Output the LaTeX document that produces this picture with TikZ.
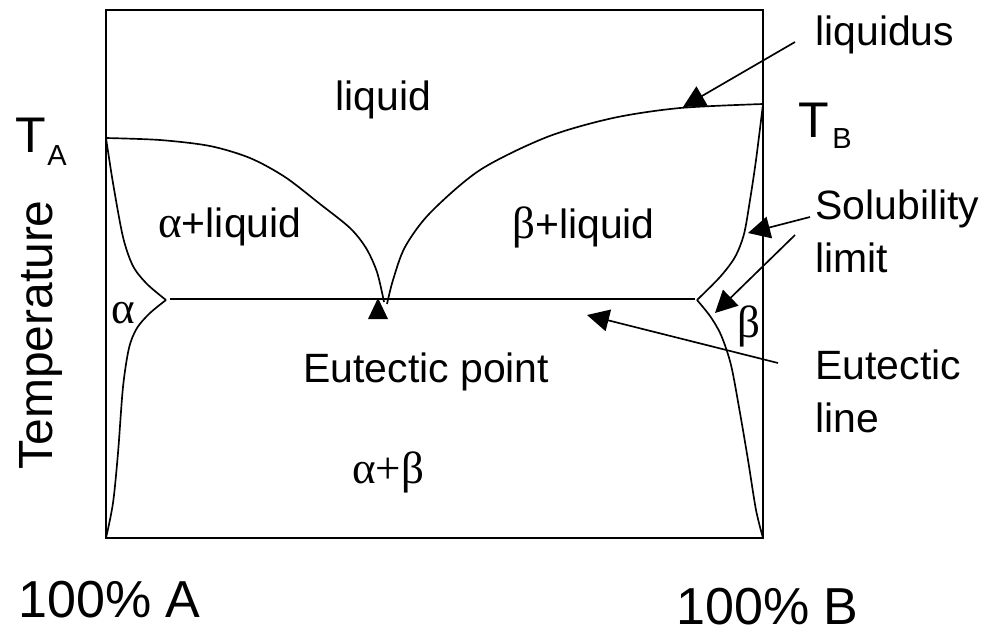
\documentclass[tikz,border=0pt]{standalone}
\usepackage{fontspec}
\setmainfont{Liberation Sans}
\newfontfamily\greekfont[Scale=1.1]{Liberation Serif}
\usetikzlibrary{arrows.meta, calc}
\newcommand{\galpha}{{\greekfont α}}
\newcommand{\gbeta}{{\greekfont β}}

\begin{document}
\begin{tikzpicture}[x=0.2mm, y=-0.2mm,
    curve/.style={line width=0.95pt},
    frame/.style={line width=1.1pt},
    pointer/.style={-{Triangle[length=4.4mm, width=4.4mm]}, line width=0.95pt},
    region/.style={font=\fontsize{23.3}{28}\selectfont, inner sep=0pt, anchor=base west},
    note/.style={font=\fontsize{23.3}{29.6}\selectfont, inner sep=0pt, align=left, anchor=base west},
    axislabel/.style={font=\fontsize{28.5}{32}\selectfont, inner sep=0pt, anchor=base west},
    sublabel/.style={font=\fontsize{16.5}{18}\selectfont, inner sep=0pt, anchor=base west}
]
\useasboundingbox (0,0) rectangle (986,631);

% Frame of the diagram
\draw[frame] (106,10) rectangle (763,538);

% Key points
\coordinate (TA) at (106,138);
\coordinate (TB) at (763,104);
\coordinate (cuspA) at (166,300);
\coordinate (cuspB) at (697,300);
\coordinate (eutpt) at (378,298);

% Liquidus curves
\draw[curve] plot[smooth] coordinates {(106,138) (160,140) (210,146) (250,158) (285,177) (320,204) (350,228) (366,248) (377,272) (384,302)};
\draw[curve] plot[smooth] coordinates {(387,304) (393,280) (405,247) (430,213) (480,170) (547,137) (613,118) (680,108) (763,104)};

% Solubility limits, left side
\draw[curve] plot[smooth] coordinates {(106,138) (113,183) (123,237) (133,266) (147,284) (166,300)};
\draw[curve] plot[smooth] coordinates {(166,300) (150,313) (137,328) (129,348) (123,387) (118,453) (113,503) (106,538)};

% Solubility limits, right side
\draw[curve] plot[smooth] coordinates {(763,104) (756,160) (750,200) (744,234) (735,257) (720,277) (697,300)};
\draw[curve] plot[smooth] coordinates {(697,300) (710,316) (721,335) (731,365) (740,413) (748,460) (756,510) (763,538)};

% Eutectic line
\draw[curve] (170,299) -- (695,299);
\fill (eutpt) -- ++(-10,21) -- ++(20,0) -- cycle;

% Region labels
\node[region] (liq) at (335,110) {liquid};
\node[region] (aliq) at (158,237) {\galpha+liquid};
\node[region] (bliq) at (512,238) {\gbeta+liquid};
\node[region] (alpha) at (111,323) {\galpha};
\node[region] (beta) at (737,337) {\gbeta};
\node[region] (ab) at (352,483) {{\greekfont α+β}};
\node[region] (eutlabel) at (303,382) {Eutectic point};

% Axis labels
\node[axislabel] (tA) at (15,152) {T};
\node[sublabel] (tAsub) at (47,165) {A};
\node[axislabel] (tB) at (798,137) {T};
\node[sublabel] (tBsub) at (832,148) {B};
\node[axislabel, font=\fontsize{27.3}{32}\selectfont, rotate=90] (temp) at (52,470) {Temperature};
\node[axislabel, font=\fontsize{29.6}{32}\selectfont] (pA) at (18,617) {100\% A};
\node[axislabel, font=\fontsize{29.6}{32}\selectfont] (pB) at (676,624) {100\% B};

% Notes on the right (base is the last line)
\node[note] (liqnote) at (815,45) {liquidus};
\node[note] (solnote) at (815,272) {Solubility\\limit};
\node[note] (eutnote) at (815,432) {Eutectic\\line};

% Pointers
\coordinate (liqfrom) at (795,42);
\coordinate (liqto) at (683,107);
\coordinate (solfromA) at (810,217);
\coordinate (soltoA) at (748,233);
\coordinate (solfromB) at (795,235);
\coordinate (soltoB) at (715,313);
\coordinate (eutfrom) at (778,363);
\coordinate (eutto) at (587,315);
\draw[pointer] (liqfrom) -- (liqto);
\draw[pointer] (solfromA) -- (soltoA);
\draw[pointer] (solfromB) -- (soltoB);
\draw[pointer] (eutfrom) -- (eutto);

\end{tikzpicture}
\end{document}
